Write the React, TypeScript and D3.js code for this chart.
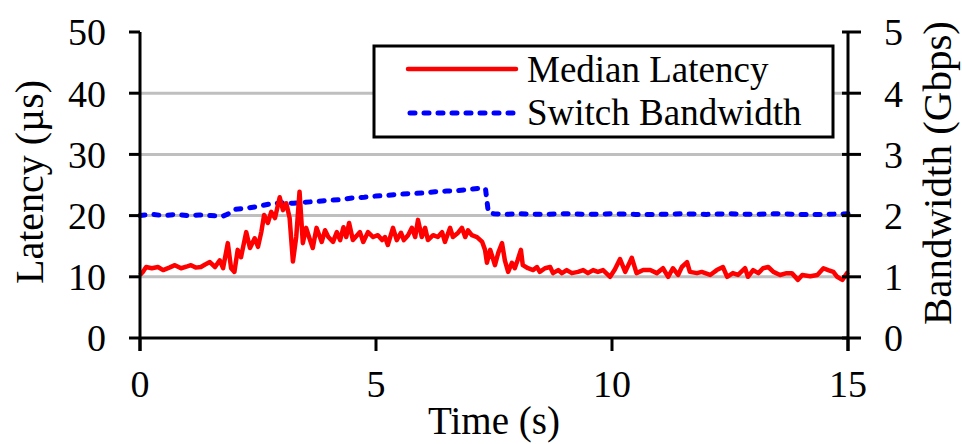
import React from 'react'
import * as d3 from 'd3'

// Median latency (µs)
const latencyTime = [
  0.0, 0.06, 0.13, 0.25, 0.38, 0.49, 0.62, 0.74, 0.87, 1.0, 1.08, 1.18, 1.29, 1.38, 1.48, 1.59, 1.69, 1.76,
  1.86, 1.93, 2.0, 2.07, 2.14, 2.25, 2.33, 2.43, 2.5, 2.57, 2.63, 2.71, 2.78, 2.86, 2.96, 3.03, 3.1, 3.17,
  3.24, 3.31, 3.38, 3.45, 3.52, 3.59, 3.66, 3.74, 3.85, 3.92, 3.99, 4.09, 4.17, 4.24, 4.31, 4.37, 4.43, 4.51,
  4.6, 4.66, 4.73, 4.83, 4.94, 5.04, 5.13, 5.19, 5.25, 5.36, 5.44, 5.53, 5.59, 5.68, 5.76, 5.83, 5.89, 5.97,
  6.04, 6.1, 6.21, 6.31, 6.4, 6.46, 6.57, 6.63, 6.74, 6.82, 6.89, 6.95, 7.03, 7.14, 7.25, 7.31, 7.35, 7.42,
  7.52, 7.59, 7.67, 7.73, 7.8, 7.88, 7.94, 8.0, 8.07, 8.11, 8.22, 8.33, 8.41, 8.47, 8.58, 8.69, 8.75, 8.86,
  8.94, 9.04, 9.15, 9.28, 9.39, 9.49, 9.6, 9.7, 9.81, 9.96, 10.06, 10.17, 10.28, 10.42, 10.52, 10.66, 10.81,
  10.95, 11.08, 11.19, 11.29, 11.4, 11.48, 11.59, 11.65, 11.8, 11.9, 12.08, 12.22, 12.35, 12.44, 12.56, 12.67,
  12.82, 12.88, 12.99, 13.1, 13.2, 13.31, 13.42, 13.56, 13.7, 13.81, 13.94, 14.03, 14.2, 14.35, 14.48, 14.58,
  14.69, 14.77, 14.88, 15.0
]
const latencyValue = [
  10.3, 10.8, 11.6, 11.4, 11.6, 11.1, 11.5, 11.9, 11.4, 11.7, 11.9, 11.5, 11.6, 12.0, 12.4, 11.6, 12.7, 11.4,
  15.5, 11.4, 10.8, 14.4, 13.2, 17.3, 14.7, 16.3, 14.9, 17.3, 20.1, 18.8, 20.6, 19.6, 23.0, 20.9, 22.0, 19.6,
  12.5, 16.5, 23.9, 15.5, 18.0, 16.3, 14.7, 18.0, 15.7, 17.6, 16.5, 15.7, 17.3, 16.0, 18.1, 16.5, 18.8, 16.0,
  16.8, 17.3, 15.7, 17.3, 16.5, 16.8, 16.0, 16.5, 15.2, 18.0, 16.0, 17.2, 16.0, 16.8, 18.0, 16.5, 19.3, 16.5,
  18.0, 16.0, 16.8, 16.5, 17.3, 15.7, 18.0, 16.5, 17.2, 18.0, 16.5, 17.6, 16.8, 16.5, 15.7, 14.4, 12.3, 14.4,
  11.9, 13.9, 15.5, 12.7, 10.8, 12.3, 11.4, 12.7, 14.4, 11.9, 11.4, 11.1, 11.6, 10.8, 11.4, 11.6, 10.6, 11.1,
  10.6, 11.1, 10.6, 10.8, 11.1, 10.6, 11.1, 10.8, 11.1, 10.0, 11.2, 12.9, 10.8, 13.1, 10.6, 11.1, 11.1,
  10.6, 11.4, 10.0, 11.4, 10.3, 11.6, 12.4, 10.8, 10.6, 10.8, 10.3, 11.1, 11.6, 10.0, 10.6, 10.3,
  11.4, 10.0, 11.1, 10.6, 11.4, 11.6, 10.8, 10.3, 10.6, 10.6, 9.5, 10.3, 10.1, 10.3, 11.4, 11.1,
  10.8, 10.0, 9.5, 10.8
]

// Switch bandwidth (Gbps)
const bandwidthTime = [
  0, 0.25, 0.5, 0.75, 1.0, 1.25, 1.5, 1.75, 1.85, 2.0, 2.25, 2.5, 2.75, 3.0, 3.25, 3.5, 3.75, 4.0, 4.25, 4.5,
  4.75, 5.0, 5.25, 5.5, 5.75, 6.0, 6.25, 6.5, 6.75, 7.0, 7.25, 7.32, 7.38, 7.5, 7.75, 8.0, 8.5, 9.0, 9.5,
  10.0, 10.5, 11.0, 11.5, 12.0, 12.5, 13.0, 13.5, 14.0, 14.5, 15.0
]
const bandwidthValue = [
  2.0, 2.02, 2.0, 2.02, 2.0, 2.01, 2.0, 1.99, 2.02, 2.1, 2.12, 2.15, 2.19, 2.21, 2.2, 2.22, 2.23, 2.25, 2.26, 2.29,
  2.3, 2.32, 2.33, 2.35, 2.36, 2.37, 2.39, 2.4, 2.41, 2.43, 2.45, 2.44, 2.05, 2.03, 2.02, 2.03, 2.02, 2.03, 2.02,
  2.03, 2.02, 2.02, 2.03, 2.02, 2.03, 2.02, 2.03, 2.02, 2.02, 2.03
]

const xTicks = [0, 5, 10, 15]
const latencyTicks = [0, 10, 20, 30, 40, 50]
const bandwidthTicks = [0, 1, 2, 3, 4, 5]

const legendItems = ['Median Latency', 'Switch Bandwidth']

const FONT = '"Liberation Serif", "Times New Roman", serif'

export default function App() {
  const margin = { left: 140, right: 848, top: 32, bottom: 338 }

  const x = d3.scaleLinear().domain([0, 15]).range([margin.left, margin.right])
  const yLat = d3.scaleLinear().domain([0, 50]).range([margin.bottom, margin.top])
  const yBw = d3.scaleLinear().domain([0, 5]).range([margin.bottom, margin.top])

  const latencyLine = d3.line<number>()
    .x((_, i) => x(latencyTime[i]))
    .y(d => yLat(d))

  const bandwidthLine = d3.line<number>()
    .x((_, i) => x(bandwidthTime[i]))
    .y(d => yBw(d))

  return (
    <svg width={962} height={444} style={{ position: 'absolute', left: 0, top: 0, background: '#fff' }}
      fontFamily={FONT}>
      {/* grid */}
      {latencyTicks.filter(t => t > 0 && t < 50).map(t => (
        <line key={'g' + t} x1={margin.left} x2={margin.right} y1={yLat(t)} y2={yLat(t)}
          stroke="#bfbfbf" strokeWidth={3} />
      ))}

      {/* series */}
      <path d={bandwidthLine(bandwidthValue) || ''} fill="none" stroke="#0000ff" strokeWidth={5}
        strokeDasharray="5 9" strokeLinecap="round" />
      <path d={latencyLine(latencyValue) || ''} fill="none" stroke="#ff0000" strokeWidth={4.5}
        strokeLinejoin="round" />

      {/* x axis */}
      <line x1={margin.left} x2={margin.right} y1={margin.bottom} y2={margin.bottom} stroke="#000" strokeWidth={3} />
      {xTicks.map(t => (
        <g key={'x' + t}>
          <line x1={x(t)} x2={x(t)} y1={margin.bottom} y2={margin.bottom + 13} stroke="#000" strokeWidth={3} />
          <text x={x(t)} y={397} fontSize={38} textAnchor="middle">{t}</text>
        </g>
      ))}
      <text x={(margin.left + margin.right) / 2} y={434} fontSize={39} textAnchor="middle">Time (s)</text>

      {/* left axis */}
      <line x1={margin.left} x2={margin.left} y1={margin.top} y2={margin.bottom + 13} stroke="#000" strokeWidth={3} />
      {latencyTicks.map(t => (
        <g key={'l' + t}>
          <line x1={margin.left - 11} x2={margin.left} y1={yLat(t)} y2={yLat(t)} stroke="#000" strokeWidth={3} />
          <text x={106} y={yLat(t)} dy="0.35em" fontSize={38} textAnchor="end">{t}</text>
        </g>
      ))}
      <text transform="translate(43,182) rotate(-90)" fontSize={40} textAnchor="middle">Latency (µs)</text>

      {/* right axis */}
      <line x1={margin.right} x2={margin.right} y1={margin.top} y2={margin.bottom + 13} stroke="#000" strokeWidth={3} />
      {bandwidthTicks.map(t => (
        <g key={'r' + t}>
          <line x1={margin.right - 6} x2={margin.right + 13} y1={yBw(t)} y2={yBw(t)} stroke="#000" strokeWidth={3} />
          <text x={884} y={yBw(t)} dy="0.35em" fontSize={38} textAnchor="start">{t}</text>
        </g>
      ))}
      <text transform="translate(951,173) rotate(-90)" fontSize={41} textAnchor="middle">Bandwidth (Gbps)</text>

      {/* legend */}
      <rect x={374} y={46} width={459} height={91} fill="#fff" stroke="#000" strokeWidth={3} />
      <line x1={408} x2={516} y1={69} y2={69} stroke="#ff0000" strokeWidth={4.5} strokeLinecap="round" />
      <text x={527} y={82} fontSize={37}>{legendItems[0]}</text>
      <line x1={410} x2={516} y1={113} y2={113} stroke="#0000ff" strokeWidth={5}
        strokeDasharray="5 9" strokeLinecap="round" />
      <text x={527} y={125} fontSize={37}>{legendItems[1]}</text>
    </svg>
  )
}
